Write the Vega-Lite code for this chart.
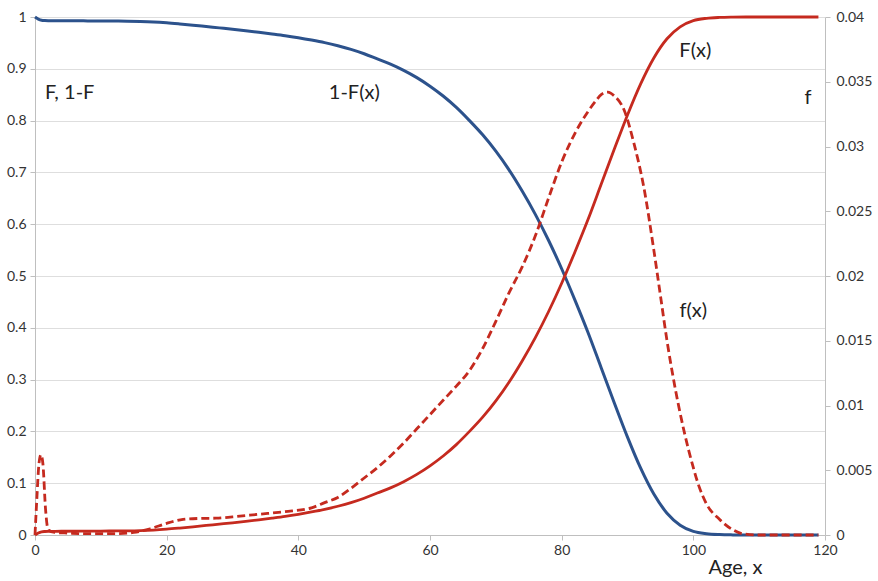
{
  "$schema": "https://vega.github.io/schema/vega-lite/v6.json",
  "width": 790,
  "height": 518,
  "autosize": {"type": "none"},
  "padding": {"left": 35, "top": 17, "right": 53, "bottom": 46},
  "background": "white",
  "config": {
    "view": {"stroke": null},
    "font": "Lato",
    "axis": {
      "labelFont": "Lato",
      "labelFontSize": 14,
      "labelColor": "#333333",
      "labelFlush": false,
      "labelOverlap": false,
      "domainColor": "#bfbfbf",
      "tickColor": "#bfbfbf",
      "tickSize": 5,
      "titleFont": "Lato",
      "titleFontWeight": "normal",
      "titleColor": "#222222"
    }
  },
  "datasets": {
    "cdf": [
      {"x": 0, "F": 0, "S": 1},
      {"x": 0.5, "F": 0.004, "S": 0.996},
      {"x": 1, "F": 0.0062, "S": 0.9938},
      {"x": 1.5, "F": 0.0068, "S": 0.9932},
      {"x": 2, "F": 0.007, "S": 0.993},
      {"x": 4, "F": 0.0072, "S": 0.9928},
      {"x": 6, "F": 0.0074, "S": 0.9926},
      {"x": 8, "F": 0.0075, "S": 0.9925},
      {"x": 10, "F": 0.0076, "S": 0.9924},
      {"x": 12, "F": 0.0078, "S": 0.9922},
      {"x": 14, "F": 0.008, "S": 0.992},
      {"x": 16, "F": 0.0085, "S": 0.9915},
      {"x": 18, "F": 0.0095, "S": 0.9905},
      {"x": 20, "F": 0.0112, "S": 0.9888},
      {"x": 22, "F": 0.0134, "S": 0.9866},
      {"x": 24, "F": 0.0158, "S": 0.9842},
      {"x": 26, "F": 0.0184, "S": 0.9816},
      {"x": 28, "F": 0.021, "S": 0.979},
      {"x": 30, "F": 0.0236, "S": 0.9764},
      {"x": 32, "F": 0.0264, "S": 0.9736},
      {"x": 34, "F": 0.0294, "S": 0.9706},
      {"x": 36, "F": 0.0326, "S": 0.9674},
      {"x": 38, "F": 0.036, "S": 0.964},
      {"x": 40, "F": 0.04, "S": 0.96},
      {"x": 42, "F": 0.0445, "S": 0.9555},
      {"x": 44, "F": 0.0495, "S": 0.9505},
      {"x": 46, "F": 0.0555, "S": 0.9445},
      {"x": 48, "F": 0.0625, "S": 0.9375},
      {"x": 50, "F": 0.071, "S": 0.929},
      {"x": 52, "F": 0.081, "S": 0.919},
      {"x": 54, "F": 0.091, "S": 0.909},
      {"x": 56, "F": 0.103, "S": 0.897},
      {"x": 58, "F": 0.117, "S": 0.883},
      {"x": 60, "F": 0.1335, "S": 0.8665},
      {"x": 62, "F": 0.1525, "S": 0.8475},
      {"x": 64, "F": 0.1745, "S": 0.8255},
      {"x": 66, "F": 0.2, "S": 0.8},
      {"x": 68, "F": 0.2275, "S": 0.7725},
      {"x": 70, "F": 0.259, "S": 0.741},
      {"x": 72, "F": 0.295, "S": 0.705},
      {"x": 74, "F": 0.336, "S": 0.664},
      {"x": 76, "F": 0.381, "S": 0.619},
      {"x": 78, "F": 0.431, "S": 0.569},
      {"x": 80, "F": 0.486, "S": 0.514},
      {"x": 82, "F": 0.546, "S": 0.454},
      {"x": 84, "F": 0.609, "S": 0.391},
      {"x": 86, "F": 0.677, "S": 0.323},
      {"x": 88, "F": 0.745, "S": 0.255},
      {"x": 90, "F": 0.811, "S": 0.189},
      {"x": 92, "F": 0.871, "S": 0.129},
      {"x": 94, "F": 0.921, "S": 0.079},
      {"x": 96, "F": 0.958, "S": 0.042},
      {"x": 98, "F": 0.981, "S": 0.019},
      {"x": 100, "F": 0.993, "S": 0.007},
      {"x": 102, "F": 0.9975, "S": 0.0025},
      {"x": 104, "F": 0.9992, "S": 0.0008},
      {"x": 106, "F": 0.9998, "S": 0.0002},
      {"x": 108, "F": 1, "S": 0},
      {"x": 119, "F": 1, "S": 0}
    ],
    "pdf": [
      {"x": 0, "f": 0},
      {"x": 0.3, "f": 0.003},
      {"x": 0.6, "f": 0.0055},
      {"x": 0.9, "f": 0.0062},
      {"x": 1.2, "f": 0.0055},
      {"x": 1.6, "f": 0.002},
      {"x": 2, "f": 0.0004},
      {"x": 3, "f": 0.0002},
      {"x": 5, "f": 0.00015},
      {"x": 8, "f": 0.0001},
      {"x": 12, "f": 0.0001},
      {"x": 15, "f": 0.0002},
      {"x": 17.5, "f": 0.00048},
      {"x": 20, "f": 0.0009},
      {"x": 22.5, "f": 0.0012},
      {"x": 25, "f": 0.00128},
      {"x": 27.5, "f": 0.0013},
      {"x": 30, "f": 0.0014},
      {"x": 34, "f": 0.0016},
      {"x": 38, "f": 0.0018},
      {"x": 42, "f": 0.0021},
      {"x": 44, "f": 0.0025},
      {"x": 46, "f": 0.0029},
      {"x": 48, "f": 0.0036},
      {"x": 50, "f": 0.0044},
      {"x": 52, "f": 0.0052},
      {"x": 54, "f": 0.0061},
      {"x": 56, "f": 0.0071},
      {"x": 58, "f": 0.0082},
      {"x": 60, "f": 0.0093},
      {"x": 62, "f": 0.0104},
      {"x": 64, "f": 0.0115},
      {"x": 66, "f": 0.0127},
      {"x": 68, "f": 0.0144},
      {"x": 70, "f": 0.0165},
      {"x": 72, "f": 0.0187},
      {"x": 74, "f": 0.0207},
      {"x": 76, "f": 0.0231},
      {"x": 78, "f": 0.026},
      {"x": 80, "f": 0.0288},
      {"x": 82, "f": 0.031},
      {"x": 84, "f": 0.0327},
      {"x": 85, "f": 0.0334},
      {"x": 86, "f": 0.034},
      {"x": 87, "f": 0.0342},
      {"x": 88, "f": 0.0339},
      {"x": 89.5, "f": 0.0328},
      {"x": 91, "f": 0.0302},
      {"x": 92.5, "f": 0.0268},
      {"x": 94, "f": 0.022},
      {"x": 95, "f": 0.0185},
      {"x": 96, "f": 0.015},
      {"x": 97, "f": 0.012},
      {"x": 98.6, "f": 0.008},
      {"x": 100, "f": 0.0052},
      {"x": 100.7, "f": 0.004},
      {"x": 102, "f": 0.0024},
      {"x": 104, "f": 0.0012},
      {"x": 106, "f": 0.0004},
      {"x": 107.5, "f": 0.0001},
      {"x": 110, "f": 0},
      {"x": 119, "f": 0}
    ],
    "labelsLeft": [
      {"x": 1.5, "y": 0.854, "label": "F, 1-F"}
    ],
    "labelsCenter": [
      {"x": 48.5, "y": 0.853, "label": "1-F(x)"},
      {"x": 100.3, "y": 0.934, "label": "F(x)"},
      {"x": 100, "y": 0.432, "label": "f(x)"},
      {"x": 117.4, "y": 0.8436, "label": "f"}
    ]
  },
  "layer": [
    {
      "layer": [
        {
          "data": {"name": "cdf"},
          "mark": {"type": "line", "color": "#2c528c", "strokeWidth": 3, "interpolate": "monotone"},
          "encoding": {
            "x": {"field": "x", "type": "quantitative", "scale": {"domain": [0, 120], "nice": false},
              "axis": {"values": [0, 20, 40, 60, 80, 100, 120], "grid": false, "title": "Age, x", "titleFontSize": 20, "titleX": 700, "titleAlign": "center", "titlePadding": 0, "labelPadding": 3}},
            "y": {"field": "S", "type": "quantitative", "scale": {"domain": [0, 1], "nice": false},
              "axis": {"values": [0, 0.1, 0.2, 0.3, 0.4, 0.5, 0.6, 0.7, 0.8, 0.9, 1], "format": "~g", "title": null, "grid": true, "gridColor": "#bdbdbd", "gridDash": [1, 1], "gridWidth": 1, "labelPadding": 4}}
          }
        },
        {
          "data": {"name": "cdf"},
          "mark": {"type": "line", "color": "#c52a1f", "strokeWidth": 2.8, "interpolate": "monotone"},
          "encoding": {
            "x": {"field": "x", "type": "quantitative"},
            "y": {"field": "F", "type": "quantitative"}
          }
        },
        {
          "data": {"name": "labelsLeft"},
          "mark": {"type": "text", "fontSize": 20, "font": "Lato", "color": "#222222", "baseline": "middle", "align": "left"},
          "encoding": {
            "x": {"field": "x", "type": "quantitative"},
            "y": {"field": "y", "type": "quantitative"},
            "text": {"field": "label"}
          }
        },
        {
          "data": {"name": "labelsCenter"},
          "mark": {"type": "text", "fontSize": 20, "font": "Lato", "color": "#222222", "baseline": "middle", "align": "center"},
          "encoding": {
            "x": {"field": "x", "type": "quantitative"},
            "y": {"field": "y", "type": "quantitative"},
            "text": {"field": "label"}
          }
        }
      ]
    },
    {
      "data": {"name": "pdf"},
      "mark": {"type": "line", "color": "#c52a1f", "strokeWidth": 2.8, "strokeDash": [8, 4], "interpolate": "monotone"},
      "encoding": {
        "x": {"field": "x", "type": "quantitative"},
        "y": {"field": "f", "type": "quantitative", "scale": {"domain": [0, 0.04], "nice": false},
          "axis": {"orient": "right", "values": [0, 0.005, 0.01, 0.015, 0.02, 0.025, 0.03, 0.035, 0.04], "format": "~g", "title": null, "grid": false, "labelPadding": 6}}
      }
    }
  ],
  "resolve": {"scale": {"y": "independent"}}
}
